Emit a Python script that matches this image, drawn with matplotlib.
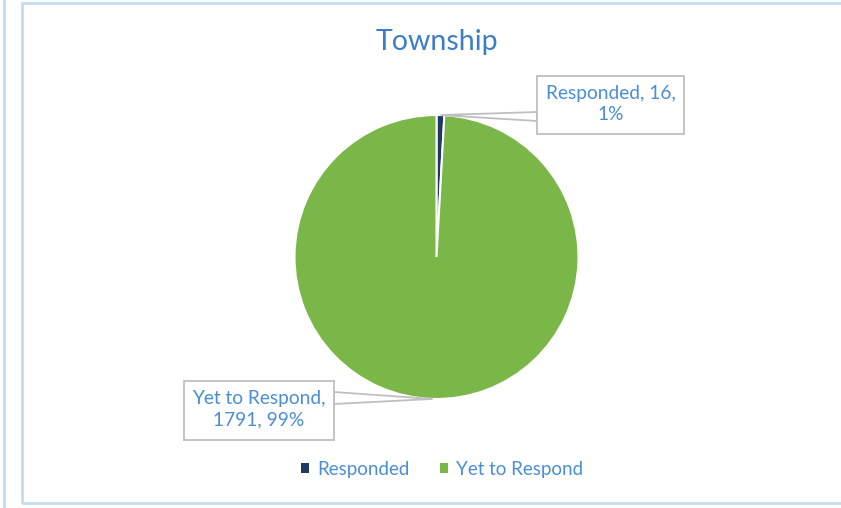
import matplotlib
matplotlib.use("Agg")
import matplotlib.pyplot as plt
import numpy as np
from matplotlib.patches import Rectangle, Polygon

plt.rcParams['font.family'] = ['Lato', 'DejaVu Sans']

categories = ["Responded", "Yet to Respond"]
counts = [16, 1791]
percents = ["1%", "99%"]
colors = ["#1F3864", "#7AB648"]

text_blue = "#4A8ED6"
title_blue = "#3C7DC8"
box_gray = "#BFBFBF"
border_blue = "#C3DCF2"

W, H = 841, 508
fig = plt.figure(figsize=(W / 100, H / 100), dpi=100)
ax = fig.add_axes([0, 0, 1, 1])
ax.set_xlim(0, W)
ax.set_ylim(0, H)
ax.set_aspect("equal")
ax.axis("off")

# chart frame + neighbouring chart edge
ax.add_patch(Rectangle((22, 5), 830, 500, fill=False, edgecolor=border_blue, lw=2))
ax.plot([4, 4], [1, 508], color=border_blue, lw=2)

cx, cy, r = 436.5, 251, 142
wedges, _ = ax.pie(counts, colors=colors, startangle=90, counterclock=False,
                   center=(cx, cy), radius=r, frame=True,
                   wedgeprops=dict(edgecolor="white", linewidth=1.5))
ax.set_xlim(0, W)
ax.set_ylim(0, H)
ax.axis("off")

ax.text(436.5, 508 - 42, "Township", ha="center", va="center",
        fontsize=20.5, color=title_blue)

# data label callouts: (box x0, x1, y0, y1 in image px), pointer base on box side
boxes = [(537, 684, 76, 134, 537, 112, 121),
         (184, 334, 381, 440, 334, 392, 404)]
for w, cat, n, pct, b in zip(wedges, categories, counts, percents, boxes):
    ang = np.deg2rad((w.theta1 + w.theta2) / 2)
    tip = (cx + r * np.cos(ang), cy + r * np.sin(ang))
    x0, x1, y0, y1, bx, by0, by1 = b
    ax.add_patch(Polygon([(bx, H - by0), tip, (bx, H - by1)], closed=True,
                         facecolor="white", edgecolor=box_gray, lw=1.3, zorder=5))
    ax.add_patch(Rectangle((x0, H - y1), x1 - x0, y1 - y0, facecolor="white",
                           edgecolor=box_gray, lw=1.3, zorder=6))
    if n < 100:
        label = f"{cat}, {n},\n{pct}"
    else:
        label = f"{cat},\n{n}, {pct}"
    ax.text((x0 + x1) / 2, H - (y0 + y1) / 2 + 1, label, ha="center", va="center",
            multialignment="center", fontsize=13.8, color=text_blue,
            linespacing=1.3, zorder=7)

leg = ax.legend(wedges, categories, loc="center", bbox_to_anchor=(442 / W, 39 / H),
                ncol=2, frameon=False, fontsize=13.5, handlelength=0.42,
                handleheight=0.42, handletextpad=0.45, columnspacing=1.6)
for t in leg.get_texts():
    t.set_color(text_blue)
for h in leg.legend_handles:
    h.set_edgecolor("none")

fig.savefig("out.png", dpi=100)
